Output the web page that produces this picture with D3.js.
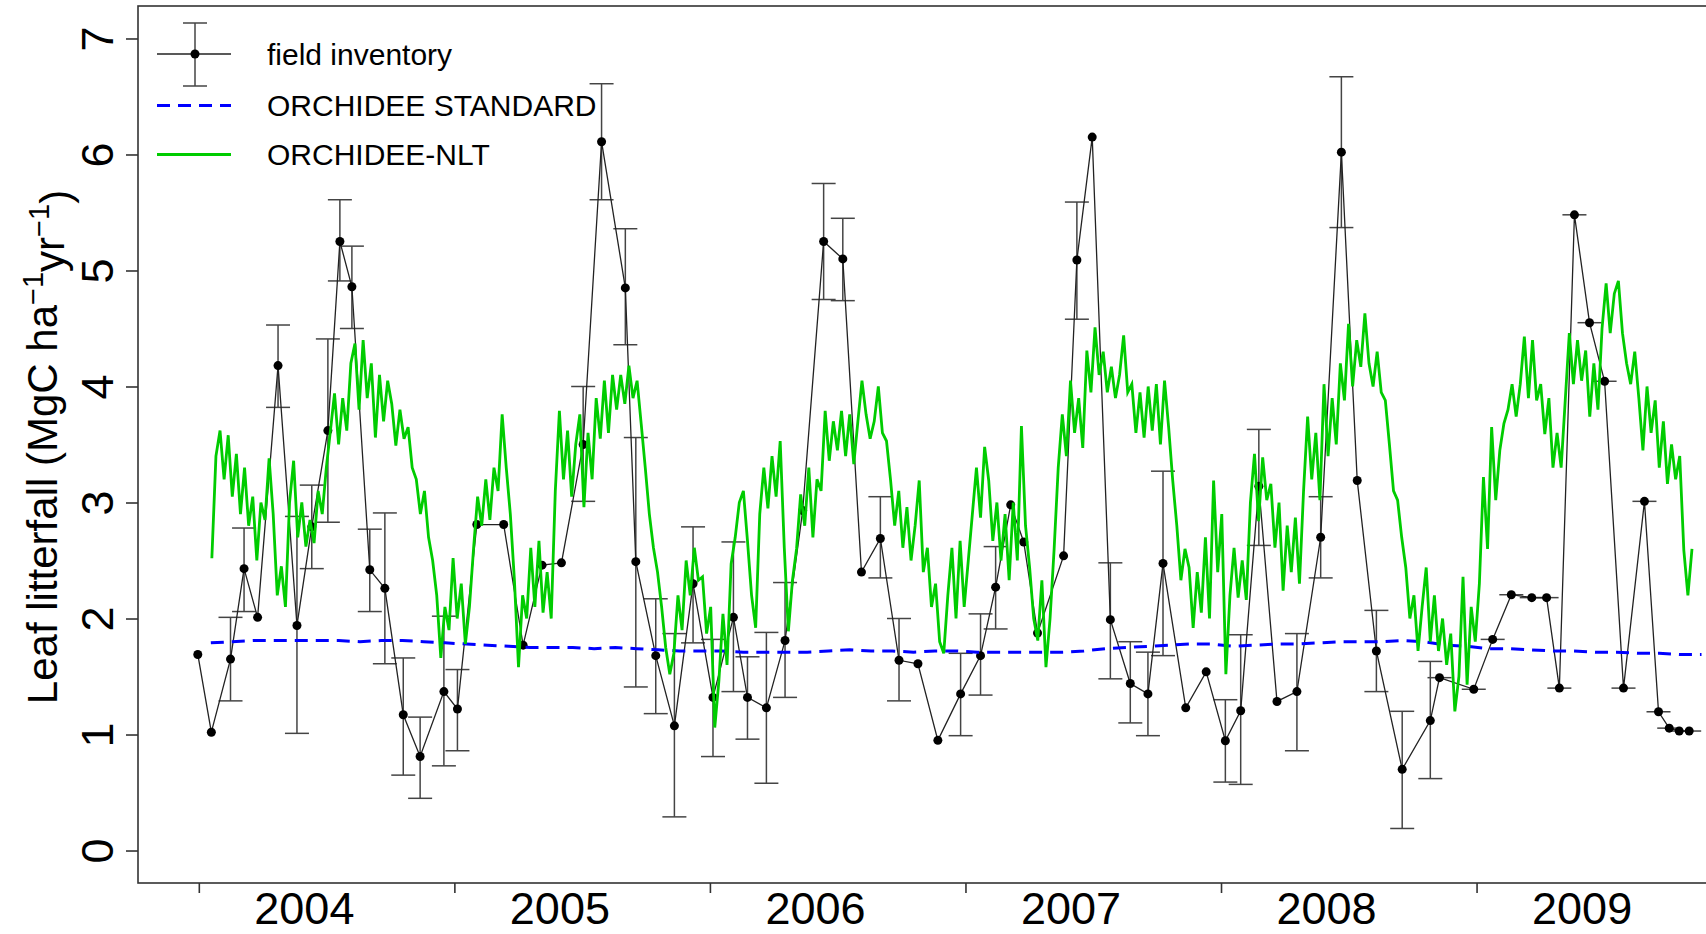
<!DOCTYPE html>
<html>
<head>
<meta charset="utf-8">
<script src="https://cdn.jsdelivr.net/npm/d3@7"></script>
<style>
  html, body { margin: 0; padding: 0; background: #fff; }
  svg { display: block; font-family: "Liberation Sans", Arial, sans-serif; }
</style>
</head>
<body>
<script>
// axis labels
const years  = [2004, 2005, 2006, 2007, 2008, 2009];
const yTicks = [0, 1, 2, 3, 4, 5, 6, 7];

// field inventory (decimal year, MgC/ha/yr, error bar low/high, time half-width)
const fieldTime = [
  2003.996, 2004.049, 2004.124, 2004.177, 2004.230, 2004.310, 2004.384, 2004.442, 2004.505, 2004.552,
  2004.599, 2004.669, 2004.728, 2004.800, 2004.866, 2004.959, 2005.012, 2005.088, 2005.193, 2005.269,
  2005.343, 2005.419, 2005.504, 2005.576, 2005.669, 2005.710, 2005.788, 2005.861, 2005.934, 2006.012,
  2006.092, 2006.147, 2006.221, 2006.294, 2006.363, 2006.445, 2006.520, 2006.593, 2006.667, 2006.740,
  2006.814, 2006.892, 2006.981, 2007.059, 2007.118, 2007.177, 2007.228, 2007.282, 2007.384, 2007.436,
  2007.496, 2007.567, 2007.645, 2007.714, 2007.773, 2007.862, 2007.942, 2008.017, 2008.077, 2008.148,
  2008.219, 2008.297, 2008.390, 2008.471, 2008.533, 2008.608, 2008.709, 2008.819, 2008.855, 2008.989,
  2009.063, 2009.136, 2009.216, 2009.274, 2009.324, 2009.383, 2009.442, 2009.501, 2009.575, 2009.657,
  2009.712, 2009.754, 2009.793, 2009.832
];
const fieldValue = [
  1.69, 1.02, 1.65, 2.43, 2.01, 4.18, 1.94, 2.79, 3.62, 5.25,
  4.86, 2.42, 2.26, 1.17, 0.81, 1.37, 1.22, 2.81, 2.81, 1.77,
  2.46, 2.48, 3.50, 6.11, 4.85, 2.49, 1.68, 1.075, 2.30, 1.32,
  2.01, 1.32, 1.23, 1.81, 2.93, 5.25, 5.10, 2.40, 2.69, 1.64,
  1.61, 0.95, 1.35, 1.68, 2.27, 2.98, 2.66, 1.875, 2.54, 5.09,
  6.15, 1.99, 1.44, 1.35, 2.475, 1.23, 1.54, 0.946, 1.205, 3.14,
  1.285, 1.37, 2.70, 6.02, 3.19, 1.72, 0.70, 1.12, 1.49, 1.39,
  1.82, 2.205, 2.18, 2.18, 1.40, 5.48, 4.55, 4.045, 1.40, 3.01,
  1.196, 1.055, 1.03, 1.03
];
const fieldLow = [
  null, null, 1.29, 2.06, null, 3.82, 1.01, 2.43, 2.83, 4.91,
  4.50, 2.06, 1.61, 0.65, 0.45, 0.73, 0.86, null, null, null,
  null, null, 3.01, 5.61, 4.36, 1.41, 1.18, 0.29, 1.79, 0.81,
  1.37, 0.96, 0.58, 1.32, null, 4.75, 4.74, null, 2.35, 1.29,
  null, null, 0.99, 1.34, 1.91, null, null, null, null, 4.58,
  null, 1.48, 1.10, 0.99, 1.68, null, null, 0.59, 0.57, 2.63,
  null, 0.86, 2.35, 5.37, null, 1.37, 0.19, 0.62, null, null,
  null, null, null, null, null, null, null, null, null, null,
  null, null, null, null
];
const fieldHigh = [
  null, null, 2.01, 2.78, null, 4.53, 2.88, 3.15, 4.41, 5.61,
  5.21, 2.77, 2.91, 1.66, 1.15, 2.02, 1.56, null, null, null,
  null, null, 4.00, 6.61, 5.36, 3.56, 2.17, 1.87, 2.79, 1.82,
  2.66, 1.67, 1.88, 2.31, null, 5.75, 5.45, null, 3.05, 2.00,
  null, null, 1.70, 2.04, 2.62, null, null, null, null, 5.59,
  null, 2.48, 1.80, 1.71, 3.27, null, null, 1.30, 1.86, 3.63,
  null, 1.87, 3.05, 6.67, null, 2.07, 1.20, 1.63, null, null,
  null, null, null, null, null, null, null, null, null, null,
  null, null, null, null
];
const fieldTimeErr = [
  0, 0, 0, 0, 0, 0, 0, 0, 0, 0,
  0, 0, 0, 0, 0, 0, 0, 0, 0, 0,
  0, 0, 0, 0, 0, 0, 0, 0, 0, 0,
  0, 0, 0, 0, 0, 0, 0, 0, 0, 0,
  0, 0, 0, 0, 0, 0, 0, 0, 0, 0,
  0, 0, 0, 0, 0, 0, 0, 0, 0, 0,
  0, 0, 0, 0, 0, 0, 0, 0, 0.047, 0.047,
  0.047, 0.047, 0.047, 0.047, 0.047, 0.047, 0.047, 0.047, 0.047, 0.047,
  0.047, 0.047, 0.047, 0.047
];

// ORCHIDEE STANDARD, monthly
const stdStart = 2004.047, stdStep = 1 / 12;
const stdValue = [
  1.79, 1.80, 1.81, 1.81, 1.81, 1.81, 1.81, 1.80, 1.81, 1.81, 1.80, 1.79,
  1.78, 1.77, 1.76, 1.75, 1.75, 1.75, 1.74, 1.75, 1.74, 1.73, 1.72, 1.72,
  1.72, 1.71, 1.71, 1.71, 1.71, 1.72, 1.73, 1.72, 1.72, 1.71, 1.72, 1.72,
  1.71, 1.71, 1.71, 1.71, 1.71, 1.72, 1.74, 1.75, 1.76, 1.77, 1.78, 1.78,
  1.76, 1.77, 1.78, 1.78, 1.79, 1.80, 1.80, 1.80, 1.81, 1.80, 1.77, 1.76,
  1.74, 1.74, 1.73, 1.72, 1.72, 1.71, 1.71, 1.70, 1.70, 1.69, 1.69
];

// ORCHIDEE-NLT, read about every 6 days
const nltStart = 2004.051, nltStep = 0.016;
const nltValue = [
  2.52, 3.40, 3.62, 3.20, 3.58,  3.05, 3.42, 2.90, 3.30, 2.80,
  3.05, 2.50, 3.00, 2.85, 3.38,  2.90, 2.20, 2.45, 2.10, 3.00,
  3.36, 2.70, 3.00, 2.62, 2.85,  2.65, 3.10, 2.90, 3.30, 3.62,
  3.94, 3.50, 3.90, 3.62, 4.20,  4.37, 3.80, 4.40, 3.90, 4.20,
  3.56, 4.10, 3.70, 4.05, 3.85,  3.49, 3.80, 3.55, 3.65, 3.30,
  3.20, 2.90, 3.10, 2.70, 2.50,  2.20, 1.66, 2.10, 1.90, 2.52,
  2.00, 2.30, 1.78, 2.10, 2.60,  3.05, 2.80, 3.20, 2.85, 3.30,
  3.10, 3.76, 3.30, 2.90, 2.33,  1.58, 2.20, 2.00, 2.61, 2.10,
  2.67, 2.05, 2.40, 2.00, 3.10,  3.79, 3.20, 3.62, 3.05, 3.50,
  3.76, 2.96, 3.60, 3.20, 3.90,  3.55, 4.05, 3.60, 4.10, 3.80,
  4.10, 3.85, 4.18, 3.90, 4.05,  3.68, 3.30, 2.90, 2.61, 2.40,
  2.10, 1.75, 1.52, 1.70, 2.20,  1.90, 2.50, 2.20, 2.61, 2.33,
  2.36, 1.87, 2.10, 1.06, 1.46,  2.04, 1.60, 2.47, 2.70, 3.00,
  3.10, 2.67, 2.20, 1.92, 2.90,  3.30, 2.95, 3.40, 3.05, 3.53,
  2.61, 1.89, 2.33, 2.60, 3.07,  2.80, 3.30, 2.70, 3.20, 3.10,
  3.79, 3.36, 3.70, 3.45, 3.79,  3.40, 3.76, 3.33, 3.70, 4.05,
  3.76, 3.55, 3.70, 4.00, 3.60,  3.53, 3.19, 2.80, 3.10, 2.61,
  2.96, 2.50, 2.80, 3.19, 2.40,  2.61, 2.10, 2.30, 1.80, 1.70,
  2.20, 2.61, 2.00, 2.67, 2.10,  2.50, 2.90, 3.30, 2.87, 3.48,
  3.19, 2.67, 3.00, 2.50, 2.90,  2.33, 3.00, 2.50, 3.66, 2.80,
  2.44, 2.00, 1.81, 2.33, 1.58,  2.00, 2.60, 3.30, 3.76, 3.40,
  4.05, 3.60, 3.90, 3.47, 4.31,  3.95, 4.51, 4.10, 4.30, 3.95,
  4.17, 3.90, 4.10, 4.44, 3.95,  4.02, 3.60, 3.95, 3.56, 4.00,
  3.62, 4.02, 3.50, 4.05, 3.65,  3.19, 2.80, 2.33, 2.60, 2.44,
  1.92, 2.40, 2.05, 2.70, 2.00,  3.19, 2.40, 2.90, 1.52, 2.20,
  2.61, 2.18, 2.50, 2.16, 3.00,  3.42, 2.84, 3.39, 3.02, 3.16,
  2.61, 3.00, 2.24, 2.80, 2.40,  2.87, 2.30, 3.10, 3.74, 3.20,
  3.60, 3.02, 4.02, 3.40, 3.90,  3.50, 4.20, 3.88, 4.54, 4.00,
  4.40, 4.17, 4.63, 4.20, 4.00,  4.30, 3.95, 3.88, 3.50, 3.10,
  3.02, 2.70, 2.44, 2.00, 2.20,  1.72, 2.10, 2.44, 1.80, 2.20,
  1.72, 2.00, 1.60, 1.87, 1.20,  1.50, 2.36, 1.43, 2.10, 1.80,
  2.30, 3.22, 2.60, 3.65, 3.02,  3.45, 3.68, 3.80, 4.02, 3.74,
  4.02, 4.43, 3.90, 4.40, 3.88,  4.02, 3.59, 3.90, 3.30, 3.60,
  3.30, 3.88, 4.46, 4.02, 4.40,  4.05, 4.31, 3.74, 4.20, 3.80,
  4.50, 4.89, 4.46, 4.80, 4.91,  4.46, 4.20, 4.02, 4.30, 3.90,
  3.45, 4.00, 3.60, 3.88, 3.30,  3.70, 3.16, 3.50, 3.20, 3.40,
  2.59, 2.20, 2.60
];

const width = 1706, height = 934;
const plotLeft = 138, plotTop = 6, plotBottom = 883, plotRight = 1750;

const x = d3.scaleLinear().domain([2003.762, 2010.07]).range([plotLeft, plotRight]);
const y = d3.scaleLinear().domain([-0.28, 7.28]).range([plotBottom, plotTop]);

const field = fieldTime.map((t, i) => ({
  t, v: fieldValue[i], lo: fieldLow[i], hi: fieldHigh[i], dt: fieldTimeErr[i]
}));
const std = stdValue.map((v, i) => ({ t: stdStart + i * stdStep, v }));
const nlt = nltValue.map((v, i) => ({ t: nltStart + i * nltStep, v }));

const svg = d3.select("body").append("svg")
  .attr("width", width)
  .attr("height", height);

// frame (right side runs off the picture)
svg.append("rect")
  .attr("x", plotLeft).attr("y", plotTop)
  .attr("width", plotRight - plotLeft).attr("height", plotBottom - plotTop)
  .attr("fill", "none").attr("stroke", "#333").attr("stroke-width", 1.6);

// y axis, labels turned like R's default
const yAxis = svg.append("g")
  .attr("transform", `translate(${plotLeft},0)`)
  .call(d3.axisLeft(y).tickValues(yTicks).tickSize(12).tickFormat(d3.format("d")));
yAxis.select(".domain").remove();
yAxis.selectAll(".tick line").attr("stroke", "#333").attr("stroke-width", 1.6);
yAxis.selectAll(".tick text")
  .attr("transform", "rotate(-90)")
  .attr("x", 0).attr("y", -25).attr("dy", 0)
  .attr("text-anchor", "middle")
  .attr("fill", "#000")
  .style("font-size", "45px");

// x axis: ticks on year starts, labels inside each year
const xAxis = svg.append("g")
  .attr("transform", `translate(0,${plotBottom})`)
  .call(d3.axisBottom(x).tickValues(years).tickSize(10).tickFormat(""));
xAxis.select(".domain").remove();
xAxis.selectAll(".tick line").attr("stroke", "#333").attr("stroke-width", 1.6);

svg.append("g").selectAll("text")
  .data(years)
  .join("text")
  .attr("x", d => x(d + 0.413))
  .attr("y", 924)
  .attr("text-anchor", "middle")
  .style("font-size", "45px")
  .text(d => d);

// y title
const title = svg.append("text")
  .attr("transform", "translate(57,447) rotate(-90)")
  .attr("text-anchor", "middle")
  .style("font-size", "42px");
title.append("tspan").text("Leaf litterfall (MgC ha");
title.append("tspan").attr("dy", "-0.5em").style("font-size", "29px").text("\u22121");
title.append("tspan").attr("dy", "0.5em").text("yr");
title.append("tspan").attr("dy", "-0.5em").style("font-size", "29px").text("\u22121");
title.append("tspan").attr("dy", "0.5em").text(")");

// field inventory: error bars, line, dots
const bars = svg.append("g").attr("stroke", "#444").attr("stroke-width", 1.5);
const vb = field.filter(d => d.lo != null);
bars.selectAll("line.v").data(vb).join("line").attr("class", "v")
  .attr("x1", d => x(d.t)).attr("x2", d => x(d.t))
  .attr("y1", d => y(d.lo)).attr("y2", d => y(d.hi));
bars.selectAll("line.top").data(vb).join("line").attr("class", "top")
  .attr("x1", d => x(d.t) - 12).attr("x2", d => x(d.t) + 12)
  .attr("y1", d => y(d.hi)).attr("y2", d => y(d.hi));
bars.selectAll("line.bot").data(vb).join("line").attr("class", "bot")
  .attr("x1", d => x(d.t) - 12).attr("x2", d => x(d.t) + 12)
  .attr("y1", d => y(d.lo)).attr("y2", d => y(d.lo));
bars.selectAll("line.h").data(field.filter(d => d.dt > 0)).join("line").attr("class", "h")
  .attr("x1", d => x(d.t - d.dt)).attr("x2", d => x(d.t + d.dt))
  .attr("y1", d => y(d.v)).attr("y2", d => y(d.v));

svg.append("path")
  .datum(field)
  .attr("fill", "none")
  .attr("stroke", "#222")
  .attr("stroke-width", 1.3)
  .attr("d", d3.line().x(d => x(d.t)).y(d => y(d.v)));

svg.append("g").selectAll("circle")
  .data(field)
  .join("circle")
  .attr("cx", d => x(d.t)).attr("cy", d => y(d.v))
  .attr("r", 4.5).attr("fill", "#000");

// model runs
svg.append("path")
  .datum(std)
  .attr("fill", "none")
  .attr("stroke", "#0000ff")
  .attr("stroke-width", 3)
  .attr("stroke-dasharray", "13,8")
  .attr("d", d3.line().x(d => x(d.t)).y(d => y(d.v)));

svg.append("path")
  .datum(nlt)
  .attr("fill", "none")
  .attr("stroke", "#00cc00")
  .attr("stroke-width", 2.8)
  .attr("d", d3.line().x(d => x(d.t)).y(d => y(d.v)));

// legend
const lg = svg.append("g");
const rows = [54, 105.5, 154.5];
lg.append("line").attr("x1", 157).attr("x2", 231).attr("y1", rows[0]).attr("y2", rows[0])
  .attr("stroke", "#222").attr("stroke-width", 1.5);
lg.append("line").attr("x1", 195).attr("x2", 195).attr("y1", 23).attr("y2", 86)
  .attr("stroke", "#444").attr("stroke-width", 1.5);
lg.append("line").attr("x1", 183).attr("x2", 207).attr("y1", 23).attr("y2", 23)
  .attr("stroke", "#444").attr("stroke-width", 1.5);
lg.append("line").attr("x1", 183).attr("x2", 207).attr("y1", 86).attr("y2", 86)
  .attr("stroke", "#444").attr("stroke-width", 1.5);
lg.append("circle").attr("cx", 195).attr("cy", rows[0]).attr("r", 4.5).attr("fill", "#000");
lg.append("line").attr("x1", 157).attr("x2", 231).attr("y1", rows[1]).attr("y2", rows[1])
  .attr("stroke", "#0000ff").attr("stroke-width", 3).attr("stroke-dasharray", "13,8");
lg.append("line").attr("x1", 157).attr("x2", 231).attr("y1", rows[2]).attr("y2", rows[2])
  .attr("stroke", "#00cc00").attr("stroke-width", 2.8);
lg.selectAll("text")
  .data(["field inventory", "ORCHIDEE STANDARD", "ORCHIDEE-NLT"])
  .join("text")
  .attr("x", 267)
  .attr("y", (d, i) => rows[i] + 10.5)
  .style("font-size", "30px")
  .text(d => d);
</script>
</body>
</html>
